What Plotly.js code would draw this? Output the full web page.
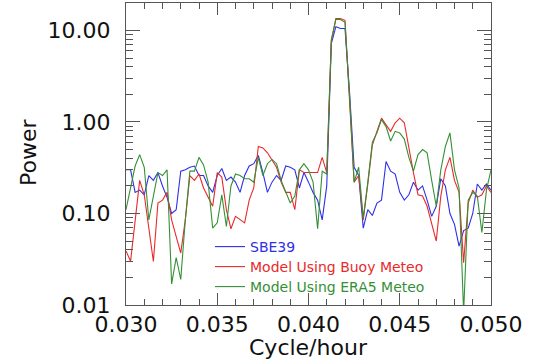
<!DOCTYPE html>
<html>
<head>
<meta charset="utf-8">
<script src="https://cdn.plot.ly/plotly-3.0.1.min.js"></script>
<style>html,body{margin:0;padding:0;background:#fff;}#chart{width:533px;height:360px;}</style>
</head>
<body>
<div id="chart"></div>
<script>
// Frequency (cycle/hour)
const freq = [
  0.03000,0.03025,0.03050,0.03075,0.03100,0.03125,0.03150,0.03175,0.03200,0.03225,
  0.03250,0.03275,0.03300,0.03325,0.03350,0.03375,0.03400,0.03425,0.03450,0.03475,
  0.03500,0.03525,0.03550,0.03575,0.03600,0.03625,0.03650,0.03675,0.03700,0.03725,
  0.03750,0.03775,0.03800,0.03825,0.03850,0.03875,0.03900,0.03925,0.03950,0.03975,
  0.04000,0.04025,0.04050,0.04075,0.04100,0.04125,0.04150,0.04175,0.04200,0.04225,
  0.04250,0.04275,0.04300,0.04325,0.04350,0.04375,0.04400,0.04425,0.04450,0.04475,
  0.04500,0.04525,0.04550,0.04575,0.04600,0.04625,0.04650,0.04675,0.04700,0.04725,
  0.04750,0.04775,0.04800,0.04825,0.04850,0.04875,0.04900,0.04925,0.04950,0.04975,
  0.05000
];

// SBE39 observed spectrum
const sbe39 = [
  0.30,0.30,0.17,0.18,0.16,0.26,0.23,0.28,0.20,0.15,
  0.10,0.11,0.29,0.30,0.32,0.33,0.26,0.26,0.20,0.17,
  0.26,0.31,0.23,0.25,0.22,0.17,0.26,0.33,0.35,0.43,
  0.28,0.17,0.22,0.26,0.23,0.33,0.32,0.30,0.19,0.28,
  0.22,0.17,0.14,0.085,0.20,7.2,11.0,10.5,10.5,2.1,
  0.32,0.26,0.069,0.11,0.095,0.13,0.14,0.37,0.29,0.27,
  0.17,0.14,0.16,0.22,0.18,0.20,0.14,0.093,0.12,0.24,
  0.20,0.10,0.076,0.044,0.065,0.069,0.10,0.21,0.18,0.21,
  0.18
];

// Model using buoy meteo
const modelBuoy = [
  0.039,0.030,0.083,0.23,0.16,0.071,0.030,0.13,0.14,0.17,
  0.085,0.056,0.037,0.085,0.26,0.23,0.27,0.19,0.15,0.12,
  0.28,0.25,0.11,0.068,0.093,0.085,0.079,0.14,0.19,0.54,
  0.52,0.46,0.39,0.32,0.22,0.17,0.17,0.11,0.30,0.28,
  0.28,0.28,0.28,0.41,0.28,7.6,13.5,13.5,12.9,1.7,
  0.22,0.26,0.085,0.21,0.56,0.79,1.10,0.93,0.79,0.98,
  1.10,0.98,0.50,0.28,0.16,0.155,0.12,0.079,0.050,0.155,
  0.30,0.41,0.23,0.17,0.029,0.13,0.18,0.15,0.16,0.20,
  0.17
];

// Model using ERA5 meteo
const modelEra5 = [
  0.11,0.19,0.33,0.44,0.32,0.085,0.15,0.28,0.26,0.30,
  0.017,0.033,0.019,0.085,0.29,0.29,0.41,0.34,0.22,0.069,
  0.079,0.16,0.072,0.20,0.27,0.26,0.24,0.24,0.22,0.41,
  0.26,0.35,0.39,0.35,0.23,0.17,0.13,0.155,0.30,0.35,
  0.30,0.22,0.068,0.29,0.27,7.9,13.3,13.2,12.3,1.9,
  0.22,0.32,0.089,0.22,0.60,0.76,1.06,0.89,0.62,0.79,
  0.76,0.65,0.41,0.29,0.44,0.50,0.46,0.23,0.12,0.30,
  0.54,0.76,0.30,0.19,0.0083,0.14,0.17,0.155,0.062,0.18,
  0.30
];

const seriesNames = ['SBE39', 'Model Using Buoy Meteo', 'Model Using ERA5 Meteo'];
const seriesColors = ['#2f2fe8', '#e82a2a', '#359035'];
const yTickVals = [0.01, 0.1, 1, 10];
const yTickText = ['0.01', '0.10', '1.00', '10.00'];

const legendIds = ['legend', 'legend2', 'legend3'];
const ys = [sbe39, modelBuoy, modelEra5];
const traces = ys.map((y, k) => ({
  x: freq, y: y, type: 'scatter', mode: 'lines',
  name: '<span style="color:' + seriesColors[k] + '">' + seriesNames[k] + '</span>',
  legend: legendIds[k],
  line: {color: seriesColors[k], width: 1.1}
}));

const axisCol = '#555';
const FONT = 'DejaVu Sans, sans-serif';
function leg(rowCenterPx) {
  return {x: (210 - 126) / 365, y: (305 - rowCenterPx) / 302, xanchor: 'left', yanchor: 'middle',
          bgcolor: 'rgba(0,0,0,0)', borderwidth: 0, font: {size: 14, family: FONT}};
}
const layout = {
  width: 533, height: 360,
  margin: {l: 126, r: 42, t: 3, b: 55},
  paper_bgcolor: '#fff', plot_bgcolor: '#fff',
  font: {family: FONT, color: '#111'},
  showlegend: true,
  legend: leg(247), legend2: leg(267), legend3: leg(287),
  xaxis: {
    range: [0.030, 0.050], dtick: 0.005, tick0: 0.030, tickformat: '.3f',
    showgrid: false, zeroline: false, showline: true, linecolor: axisCol, linewidth: 1,
    mirror: 'allticks', ticks: 'inside', ticklen: 12, tickcolor: axisCol,
    tickfont: {size: 22, family: FONT, color: '#111'},
    minor: {dtick: 0.001, ticks: 'inside', ticklen: 6, tickcolor: axisCol, showgrid: false}
  },
  yaxis: {
    type: 'log', range: [-2, 1.3],
    tickvals: yTickVals, ticktext: yTickText,
    showgrid: false, zeroline: false, showline: true, linecolor: axisCol, linewidth: 1,
    mirror: 'allticks', ticks: 'inside', ticklen: 14, tickcolor: axisCol,
    tickfont: {size: 22, family: FONT, color: '#111'}, ticklabelstandoff: 10,
    minor: {dtick: 'D1', ticks: 'inside', ticklen: 7, tickcolor: axisCol, showgrid: false}
  },
  annotations: [
    {text: 'Cycle/hour', xref: 'paper', yref: 'paper', x: 0.5, y: (305 - 347) / 302,
     xanchor: 'center', yanchor: 'middle', showarrow: false, font: {size: 22, family: FONT, color: '#111'}},
    {text: 'Power', xref: 'paper', yref: 'paper', x: (28 - 126) / 365, y: (305 - 153) / 302,
     xanchor: 'center', yanchor: 'middle', textangle: -90, showarrow: false, font: {size: 22, family: FONT, color: '#111'}}
  ]
};

Plotly.newPlot('chart', traces, layout, {displayModeBar: false, staticPlot: true});
</script>
</body>
</html>
